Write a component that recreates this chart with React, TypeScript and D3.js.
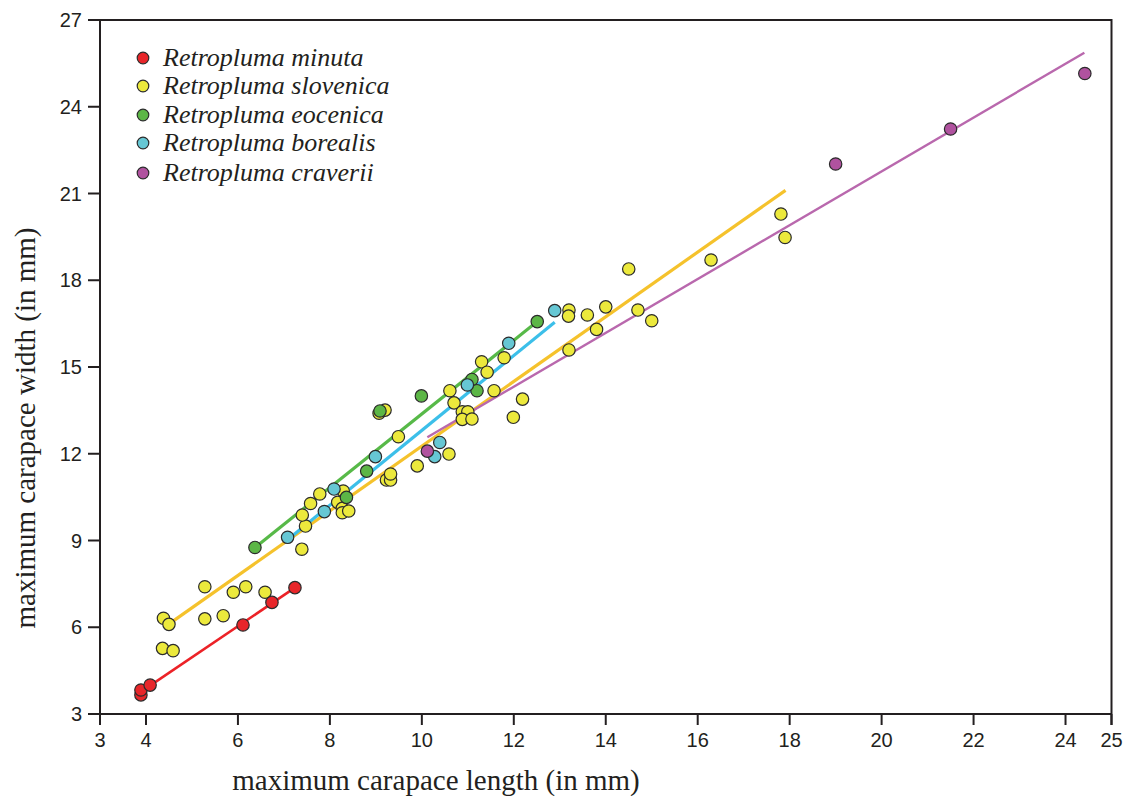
import React from "react";
import * as d3 from "d3";

const W = 1127;
const H = 796;

const xTicks = [3, 4, 6, 8, 10, 12, 14, 16, 18, 20, 22, 24, 25];
const yTicks = [3, 6, 9, 12, 15, 18, 21, 24, 27];

const species = ["Retropluma minuta", "Retropluma slovenica", "Retropluma eocenica", "Retropluma borealis", "Retropluma craverii"];

const minuta: [number, number][] = [
  [3.89, 3.66], [3.89, 3.83], [4.09, 4.0], [6.11, 6.08], [6.74, 6.86], [7.24, 7.37],
];

const slovenica: [number, number][] = [
  [4.38, 6.31], [4.5, 6.1], [4.36, 5.27], [4.59, 5.19], [5.28, 7.4], [5.28, 6.29],
  [5.68, 6.4], [5.9, 7.21], [6.17, 7.4], [6.59, 7.21], [7.39, 8.7], [7.47, 9.5],
  [7.4, 9.88], [7.58, 10.28], [7.78, 10.61], [8.29, 10.71], [8.17, 10.32], [8.27, 10.11],
  [8.27, 9.96], [8.41, 10.02], [9.23, 11.09], [9.32, 11.09], [9.32, 11.3], [9.9, 11.58],
  [9.49, 12.59], [10.59, 11.99], [9.07, 13.4], [9.2, 13.51], [10.61, 14.18], [10.7, 13.76],
  [10.88, 13.45], [11.0, 13.45], [10.88, 13.19], [11.09, 13.2], [11.3, 15.18], [11.42, 14.82],
  [11.57, 14.18], [11.79, 15.32], [12.19, 13.89], [11.99, 13.26], [13.2, 16.97], [13.19, 16.76],
  [13.2, 15.59], [13.8, 16.3], [13.6, 16.8], [14.0, 17.08], [14.5, 18.39], [14.7, 16.97],
  [15.0, 16.6], [16.29, 18.7], [17.81, 20.29], [17.9, 19.48],
];

const eocenica: [number, number][] = [
  [6.37, 8.76], [8.36, 10.49], [8.8, 11.4], [9.09, 13.48], [9.99, 14.0],
  [11.09, 14.57], [11.2, 14.18], [12.51, 16.57],
];

const borealis: [number, number][] = [
  [7.08, 9.11], [7.88, 10.0], [8.09, 10.78], [8.99, 11.9], [10.28, 11.9],
  [10.39, 12.39], [10.99, 14.38], [11.89, 15.82], [12.89, 16.95],
];

const craverii: [number, number][] = [
  [10.12, 12.09], [19.0, 22.02], [21.5, 23.23], [24.42, 25.15],
];

// regression lines: [x0, y0, x1, y1]
const minutaFit = [3.92, 3.8, 7.24, 7.37];
const slovenicaFit = [4.55, 6.17, 17.91, 21.11];
const eocenicaFit = [6.42, 8.82, 12.51, 16.57];
const borealisFit = [7.12, 9.08, 12.89, 16.55];
const craveriiFit = [10.12, 12.57, 24.41, 25.87];

const pointFills = ["#e8262a", "#ece93c", "#5cb646", "#66c7d4", "#b0529f"];
const lineColors = ["#ec2227", "#f5c22c", "#57b948", "#3cbfe9", "#b968ad"];
const lineWidths = [2.6, 3.2, 3.2, 3.2, 2.4];

const series = [minuta, slovenica, eocenica, borealis, craverii];
const fits = [minutaFit, slovenicaFit, eocenicaFit, borealisFit, craveriiFit];
const drawOrder = [1, 2, 3, 0, 4];

export default function App() {
  const x = d3.scaleLinear().domain([3, 25]).range([100, 1111.5]);
  const y = d3.scaleLinear().domain([3, 27]).range([714, 20]);
  const axisColor = "#231f20";
  const sans = "'Liberation Sans', Arial, sans-serif";
  const serif = "'Liberation Serif', 'Times New Roman', serif";

  return (
    <svg width={W} height={H} style={{ position: "absolute", left: 0, top: 0, display: "block", background: "#fff" }}>
      {/* frame */}
      <line x1={x(3)} x2={x(25)} y1={y(27)} y2={y(27)} stroke={axisColor} strokeWidth={2} />
      <line x1={x(25)} x2={x(25)} y1={y(27) - 1} y2={y(3) + 11} stroke={axisColor} strokeWidth={2} />
      <line x1={x(3)} x2={x(3)} y1={y(27) - 1} y2={y(3) + 11} stroke={axisColor} strokeWidth={2} />
      <line x1={x(3)} x2={x(25)} y1={y(3)} y2={y(3)} stroke={axisColor} strokeWidth={2} />

      {/* x ticks */}
      {xTicks.map((t) => (
        <g key={"xt" + t}>
          <line x1={x(t)} x2={x(t)} y1={y(3)} y2={y(3) + 11} stroke={axisColor} strokeWidth={2} />
          <text x={x(t)} y={747} textAnchor="middle" fontFamily={sans} fontSize={20} fill="#231f20">
            {t}
          </text>
        </g>
      ))}

      {/* y ticks */}
      {yTicks.map((t) => (
        <g key={"yt" + t}>
          <line x1={x(3) - 12} x2={x(3)} y1={y(t)} y2={y(t)} stroke={axisColor} strokeWidth={2} />
          <text x={82} y={y(t)} dy="0.36em" textAnchor="end" fontFamily={sans} fontSize={20} fill="#231f20">
            {t}
          </text>
        </g>
      ))}

      {/* axis titles */}
      <text x={436} y={790} textAnchor="middle" fontFamily={serif} fontSize={29} fill="#231f20">
        maximum carapace length (in mm)
      </text>
      <text
        transform={`translate(35,428) rotate(-90)`}
        textAnchor="middle"
        fontFamily={serif}
        fontSize={29}
        fill="#231f20"
      >
        maximum carapace width (in mm)
      </text>

      {/* regression lines */}
      {fits.map((f, i) => (
        <line
          key={"fit" + i}
          x1={x(f[0])}
          y1={y(f[1])}
          x2={x(f[2])}
          y2={y(f[3])}
          stroke={lineColors[i]}
          strokeWidth={lineWidths[i]}
        />
      ))}

      {/* points */}
      {drawOrder.map((si) => (
        <g key={"s" + si}>
          {series[si].map((p, j) => (
            <circle
              key={j}
              cx={x(p[0])}
              cy={y(p[1])}
              r={6.2}
              fill={pointFills[si]}
              stroke="#2b2b2b"
              strokeWidth={1.2}
            />
          ))}
        </g>
      ))}

      {/* legend */}
      {species.map((s, i) => {
        const ly = [58, 86, 115, 143, 173][i];
        return (
          <g key={"lg" + i}>
            <circle cx={143} cy={ly} r={5.8} fill={pointFills[i]} stroke="#2b2b2b" strokeWidth={1.2} />
            <text x={163} y={ly + 8} fontFamily={serif} fontStyle="italic" fontSize={26} fill="#231f20">
              {s}
            </text>
          </g>
        );
      })}
    </svg>
  );
}
